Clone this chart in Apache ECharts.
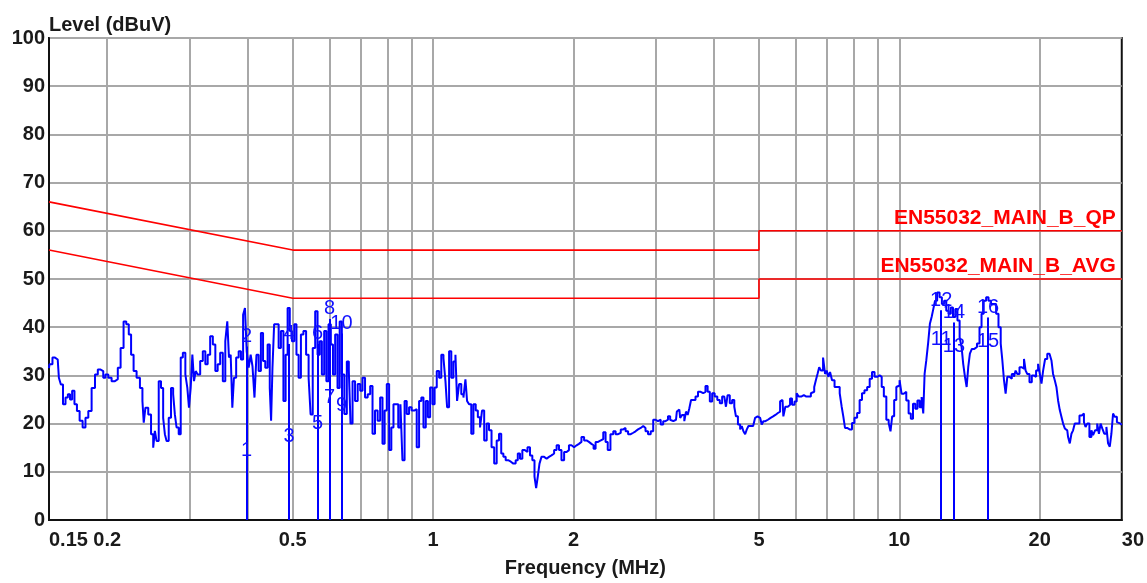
<!DOCTYPE html>
<html><head><meta charset="utf-8">
<script src="https://cdn.jsdelivr.net/npm/echarts@6/dist/echarts.min.js"></script>
<style>html,body{margin:0;padding:0;background:#fff}#c{width:1147px;height:583px}</style>
</head><body><div id="c"></div>
<script>
// ---- data ----
const freqTickLabels = [0.15, 0.2, 0.5, 1, 2, 5, 10, 20, 30];
const freqGridLines = [0.2,0.3,0.4,0.5,0.6,0.7,0.8,0.9,1,2,3,4,5,6,7,8,9,10,20];

const traceFreq = [
0.150,0.1507,0.1545,0.1566,0.1584,0.1597,0.1618,0.1637,0.1656,0.1672,0.1691,0.1711,0.1733,0.1757,0.1785,0.1807,0.1836,0.1867,0.1898,0.1920,
0.1951,0.1971,0.1994,0.2027,0.2060,0.2095,0.2119,0.2154,0.2182,0.2212,0.2237,0.2263,0.2293,0.2331,0.2370,0.2389,0.2401,0.2429,0.2469,0.2497,
0.2522,0.2539,0.2564,0.2594,0.2623,0.2649,0.2668,0.2694,0.2725,0.2756,0.2783,0.2803,0.2830,0.2863,0.2887,0.2924,0.2959,0.2982,0.3007,0.3033,
0.3057,0.3083,0.3109,0.3144,0.3186,0.3227,0.3266,0.3303,0.3347,0.3391,0.3431,0.3470,0.3517,0.3562,0.3604,0.3633,0.3664,0.3695,0.3724,0.3755,
0.3806,0.3849,0.3893,0.3932,0.3965,0.400,0.4044,0.4078,0.4118,0.4159,0.4200,0.4248,0.4296,0.4339,0.4391,0.4441,0.4485,0.4500,0.4546,0.4575,
0.4637,0.4689,0.4743,0.4806,0.4847,0.4902,0.4951,0.5007,0.5067,0.5117,0.5176,0.5235,0.5305,0.5376,0.5438,0.5483,0.5553,0.5619,0.5683,0.5740,
0.5805,0.5874,0.5932,0.600,0.6068,0.6128,0.6202,0.6272,0.6335,0.6407,
0.6493,0.6567,0.6623,0.6679,0.6756,0.6846,0.6935,0.7017,0.7097,0.7193,0.7286,0.7372,0.7456,0.7555,0.7653,0.7744,0.7832,0.7910,0.800,0.8095,
0.8175,0.8269,0.8363,0.8474,0.8546,0.8643,0.8729,0.8828,0.8933,0.9049,0.9170,0.9274,0.9388,0.9481,0.9589,0.9699,0.9795,0.9912,1.0025,1.0124,
1.024,1.0362,1.0465,1.0584,1.0673,1.0757,1.0886,1.0993,1.1119,1.1213,1.1302,1.1436,1.155,1.1681,1.178,1.1873,1.2014,1.2134,1.2273,1.2412,
1.2534,1.2683,1.2783,1.2956,1.3103,1.3259,1.3431,1.3611,1.3767,1.393,1.4069,1.4229,1.4391,1.4584,1.478,1.495,1.5118,1.5268,1.545,1.5627,
1.5837,1.6041,1.6231,1.6418,1.6581,1.6687,1.6852,1.697,1.7188,1.7419,1.7618,1.7828,1.8058,1.83,1.851,1.873,1.8972,1.9226,1.9446,1.9676,
1.993,2.0198,2.0428,2.0672,2.094,2.122,2.1462,2.1718,2.1998,2.2184,2.2438,2.2738,2.3042,2.3306,2.3572,2.3806,
2.421,2.449,2.477,2.510,2.543,2.572,2.602,2.637,2.672,2.703,2.733,2.770,2.807,2.839,2.871,2.910,2.949,2.982,3.016,3.057,
3.098,3.133,3.169,3.211,3.238,3.275,3.319,3.346,3.374,3.402,3.441,3.475,3.499,3.533,3.557,3.593,3.634,3.675,3.724,3.774,
3.817,3.861,3.899,3.946,3.990,4.044,4.096,4.145,4.192,4.234,4.261,4.303,4.354,4.404,4.448,4.476,4.537,4.575,4.611,4.650,
4.690,4.727,4.766,4.830,4.886,4.926,4.966,5.007,5.049,5.089,5.132,5.191,5.261,5.331,5.392,5.453,5.527,5.572,5.616,5.663,
5.728,5.805,5.854,5.921,6.000,6.047,6.119,6.199,6.282,6.353,6.429,6.493,6.536,6.601,6.643,6.709,6.756,6.823,6.901,6.959,
7.014,7.073,7.132,7.214,7.311,7.405,7.494,7.551,7.615,7.679,7.778,7.870,7.961,8.067,8.171,8.269,8.363,8.475,8.588,8.690,
8.789,8.907,9.022,9.130,9.203,9.326,9.432,9.544,9.605,9.701,9.797,9.909,
9.956,10.07,10.15,10.29,10.41,10.53,10.64,10.76,10.88,10.99,11.12,11.21,11.30,11.36,11.49,11.58,11.68,11.78,11.88,11.98,
12.13,12.27,12.41,12.54,12.68,12.83,12.96,13.11,13.26,13.39,13.55,13.65,13.77,13.89,14.00,14.11,14.23,14.39,14.58,14.77,
14.95,15.07,15.27,15.44,15.63,15.83,16.04,16.22,16.42,16.58,16.69,16.85,16.96,17.13,17.33,17.53,17.70,17.82,18.00,18.21,
18.42,18.60,18.72,18.91,19.13,19.35,19.54,19.76,19.93,20.10,20.26,20.43,20.66,20.87,21.12,21.28,21.46,21.64,21.81,22.00,
22.18,22.36,22.55,22.74,22.92,23.11,23.31,23.49,23.69,23.89,24.20,24.49,24.77,25.01,25.17,25.42,25.72,25.93,26.15,26.44,
26.71,26.89,27.16,27.33,27.70,27.92,28.16,28.39,28.62,28.86,29.10,29.48,29.68,29.98
];
const traceLevel = [
31.5,32.3,33.7,33.3,29.5,28.1,24.0,25.4,26.1,25.0,26.8,24.0,22.6,20.6,19.2,21.2,22.6,27.4,30.2,31.2,
30.9,29.5,30.2,29.5,28.8,29.2,31.6,35.7,41.2,40.6,38.5,34.3,30.9,29.5,27.4,24.7,20.2,23.3,21.9,17.8,
15.0,18.5,16.4,28.8,27.4,21.2,17.8,16.4,21.2,27.4,26.1,21.9,19.2,17.8,33.7,34.7,30.2,27.4,23.3,27.4,
34.3,28.8,30.9,30.2,33.0,35.0,32.3,34.3,38.1,36.4,30.9,32.3,34.7,28.8,37.1,41.2,33.7,34.3,23.3,29.5,
33.7,35.0,33.3,42.6,44.0,35.0,31.6,34.3,31.9,25.4,34.3,30.9,38.8,33.0,31.6,36.4,27.4,20.6,31.6,40.6,
40.6,35.7,39.2,24.7,34.3,44.0,39.2,37.1,40.6,34.3,29.5,38.5,39.2,34.3,29.5,21.9,35.7,43.3,34.3,37.1,
30.2,39.2,28.8,40.6,36.4,30.2,38.5,27.4,41.2,30.2,
22.0,32.9,30.9,20.0,28.8,24.7,28.2,26.8,29.5,25.4,26.1,27.8,17.9,22.7,20.6,25.4,15.8,22.7,28.2,14.5,
19.2,24.0,24.0,19.2,24.0,12.4,24.7,22.0,23.4,22.7,23.0,15.1,24.7,25.4,19.2,24.7,21.3,27.5,24.0,27.5,
30.9,29.5,34.3,33.6,28.8,23.4,35.0,29.5,32.9,34.3,24.7,28.2,26.1,25.4,29.2,24.7,24.0,17.9,24.0,22.7,
21.3,19.2,22.7,16.5,20.0,18.6,15.1,11.7,16.5,17.9,13.8,13.1,12.4,12.1,11.7,11.7,12.4,13.8,12.7,14.5,
14.1,15.1,13.4,12.4,9.0,6.6,9.0,11.7,13.1,12.7,13.1,13.4,13.8,14.5,15.5,14.5,12.4,14.1,14.5,15.5,
15.1,15.5,15.8,16.2,17.2,16.5,16.2,15.8,15.5,14.8,16.2,16.5,16.8,18.2,16.2,14.5,
17.8,18.4,17.8,18.1,18.8,19.1,18.4,17.8,18.1,18.4,18.8,19.1,19.5,19.1,18.4,17.8,18.4,20.8,20.5,20.8,
19.8,20.5,20.8,21.5,20.8,20.5,20.8,22.5,22.9,21.2,21.8,20.5,22.5,21.8,23.2,24.9,24.9,25.6,26.6,26.3,
26.6,27.8,26.6,24.6,26.3,25.6,24.9,24.2,25.6,25.9,23.5,25.9,24.2,24.9,23.5,21.5,19.8,18.8,19.5,18.4,
17.8,18.8,19.5,19.5,19.8,21.2,21.5,21.2,21.5,19.8,20.5,20.8,21.2,21.5,21.8,22.2,22.5,24.6,24.9,21.5,
23.5,23.9,25.2,23.9,24.6,26.3,25.6,25.9,25.6,25.6,25.6,26.3,26.6,27.6,29.0,30.3,31.7,31.0,33.7,30.3,
31.0,29.7,30.7,29.0,27.6,27.6,26.3,23.5,21.5,19.1,18.8,18.8,20.1,21.2,22.2,24.9,26.3,26.9,27.6,29.3,
30.7,29.7,30.0,29.7,27.6,25.6,20.8,20.1,18.4,21.5,24.9,27.6,
27.9,29.0,26.2,26.6,24.8,22.1,21.0,24.1,23.1,24.8,23.4,25.5,22.1,30.3,33.1,36.9,40.7,42.1,43.8,45.5,
47.2,46.2,44.8,45.5,43.4,42.8,44.1,42.1,43.8,41.4,37.9,35.9,32.4,29.7,27.6,31.7,34.5,35.5,35.9,36.6,
40.0,42.8,45.5,46.2,45.5,44.8,44.8,42.8,40.0,36.6,33.1,29.0,26.2,29.7,29.3,30.3,29.7,31.0,30.3,31.7,
31.4,33.4,31.0,30.3,28.6,30.0,29.7,31.0,32.4,30.3,28.3,31.0,33.4,34.5,34.1,33.1,30.3,29.0,27.6,24.8,
22.8,21.4,20.0,19.0,18.6,17.2,15.9,17.9,18.6,20.0,20.0,21.7,22.1,20.3,19.3,20.0,17.2,18.6,17.6,18.6,
20.0,17.9,20.0,19.0,17.9,19.3,15.9,15.2,17.9,22.1,21.4,20.3,20.0,19.7
];

const qpLimitName = 'EN55032_MAIN_B_QP';
const qpLimitFreq = [0.15, 0.5, 5, 5, 30];
const qpLimitLevel = [66, 56, 56, 60, 60];
const avgLimitName = 'EN55032_MAIN_B_AVG';
const avgLimitFreq = [0.15, 0.5, 5, 5, 30];
const avgLimitLevel = [56, 46, 46, 50, 50];

const markerFreq = [0.398, 0.491, 0.565, 0.600, 0.636, 12.3, 13.1, 15.5];
const markerQP = [36, 36.5, 36.5, 41.7, 38.7, 43.5, 41, 42];
const markerAVG = [12.3, 15.3, 18, 23.3, 21.6, 35.3, 33.8, 35];
const markerQPLabel = ['2','4','6','8','10','12','14','16'];
const markerAVGLabel = ['1','3','5','7','9','11','13','15'];

// ---- chart ----
const FONT = '"Liberation Sans", Arial, sans-serif';
const chart = echarts.init(document.getElementById('c'), null, {renderer: 'canvas'});

const limitLabelStyle = {
  show: true, position: 'top', align: 'right', offset: [-6, 0], distance: 1,
  color: '#ff0000', fontFamily: FONT, fontWeight: 'bold', fontSize: 21
};

function limitData(fs, ls, name) {
  return fs.map((f, i) => {
    if (i === fs.length - 1) {
      return {value: [f, ls[i]], symbolSize: 2, label: Object.assign({formatter: name}, limitLabelStyle)};
    }
    return {value: [f, ls[i]], symbolSize: 0, label: {show: false}};
  });
}

const markerLines = markerFreq.map((f, i) => [{coord: [f, 0]}, {coord: [f, markerQP[i]]}]);
const markerLabelData = [];
markerFreq.forEach((f, i) => {
  markerLabelData.push({value: [f, markerAVG[i]], name: markerAVGLabel[i]});
  markerLabelData.push({value: [f, markerQP[i]], name: markerQPLabel[i]});
});

function limitSeries(name, fs, ls) {
  return {
    name: name, type: 'line', data: limitData(fs, ls, name),
    symbol: 'circle', showSymbol: true, showAllSymbol: true,
    itemStyle: {color: 'rgba(255,0,0,0)'},
    lineStyle: {color: '#ff0000', width: 1.6}, z: 3, silent: true
  };
}

chart.setOption({
  animation: false,
  backgroundColor: '#ffffff',
  grid: {left: 49, right: 24, top: 38, bottom: 60, show: true, borderColor: '#111', borderWidth: 2, backgroundColor: '#fff'},
  xAxis: {
    type: 'log', logBase: 10, min: 0.15, max: 30,
    name: 'Frequency (MHz)', nameLocation: 'middle', nameGap: 38,
    nameTextStyle: {fontFamily: FONT, fontWeight: 'bold', fontSize: 20, color: '#1a1a1a'},
    axisLine: {show: true, onZero: false, lineStyle: {color: '#111', width: 2}},
    axisTick: {show: false, customValues: freqGridLines},
    axisLabel: {
      customValues: freqTickLabels, margin: 10,
      fontFamily: FONT, fontWeight: 'bold', fontSize: 20, color: '#1a1a1a',
      alignMinLabel: 'left', alignMaxLabel: 'left',
      formatter: v => String(parseFloat(Number(v).toPrecision(6)))
    },
    splitLine: {show: true, lineStyle: {color: '#a8a8a8', width: 2}}
  },
  yAxis: {
    type: 'value', min: 0, max: 100, interval: 10,
    name: 'Level (dBuV)', nameLocation: 'end', nameGap: 3, nameMoveOverlap: false,
    nameTextStyle: {fontFamily: FONT, fontWeight: 'bold', fontSize: 20, color: '#1a1a1a', align: 'left', verticalAlign: 'bottom'},
    axisLine: {show: true, lineStyle: {color: '#111', width: 2}},
    axisTick: {show: false},
    axisLabel: {margin: 4, fontFamily: FONT, fontWeight: 'bold', fontSize: 20, color: '#1a1a1a'},
    splitLine: {show: true, lineStyle: {color: '#a8a8a8', width: 2}}
  },
  series: [
    limitSeries(qpLimitName, qpLimitFreq, qpLimitLevel),
    limitSeries(avgLimitName, avgLimitFreq, avgLimitLevel),
    {
      name: 'trace', type: 'line', data: traceFreq.map((f, i) => [f, traceLevel[i]]),
      step: 'middle',
      symbol: 'none', lineStyle: {color: '#0000ff', width: 2}, z: 4, silent: true,
      markLine: {
        silent: true, symbol: ['none', 'none'], animation: false,
        label: {show: false},
        lineStyle: {color: '#0000ff', width: 2, type: 'solid'},
        data: markerLines
      }
    },
    {
      name: 'markers', type: 'scatter', data: markerLabelData, symbolSize: 0.5,
      itemStyle: {color: '#1010ff', opacity: 1}, z: 5, silent: true,
      label: {show: true, position: 'top', distance: 0, formatter: p => p.name,
        color: '#1010ff', opacity: 1, textBorderWidth: 0, fontFamily: FONT, fontSize: 20}
    }
  ]
});
</script>
</body></html>
